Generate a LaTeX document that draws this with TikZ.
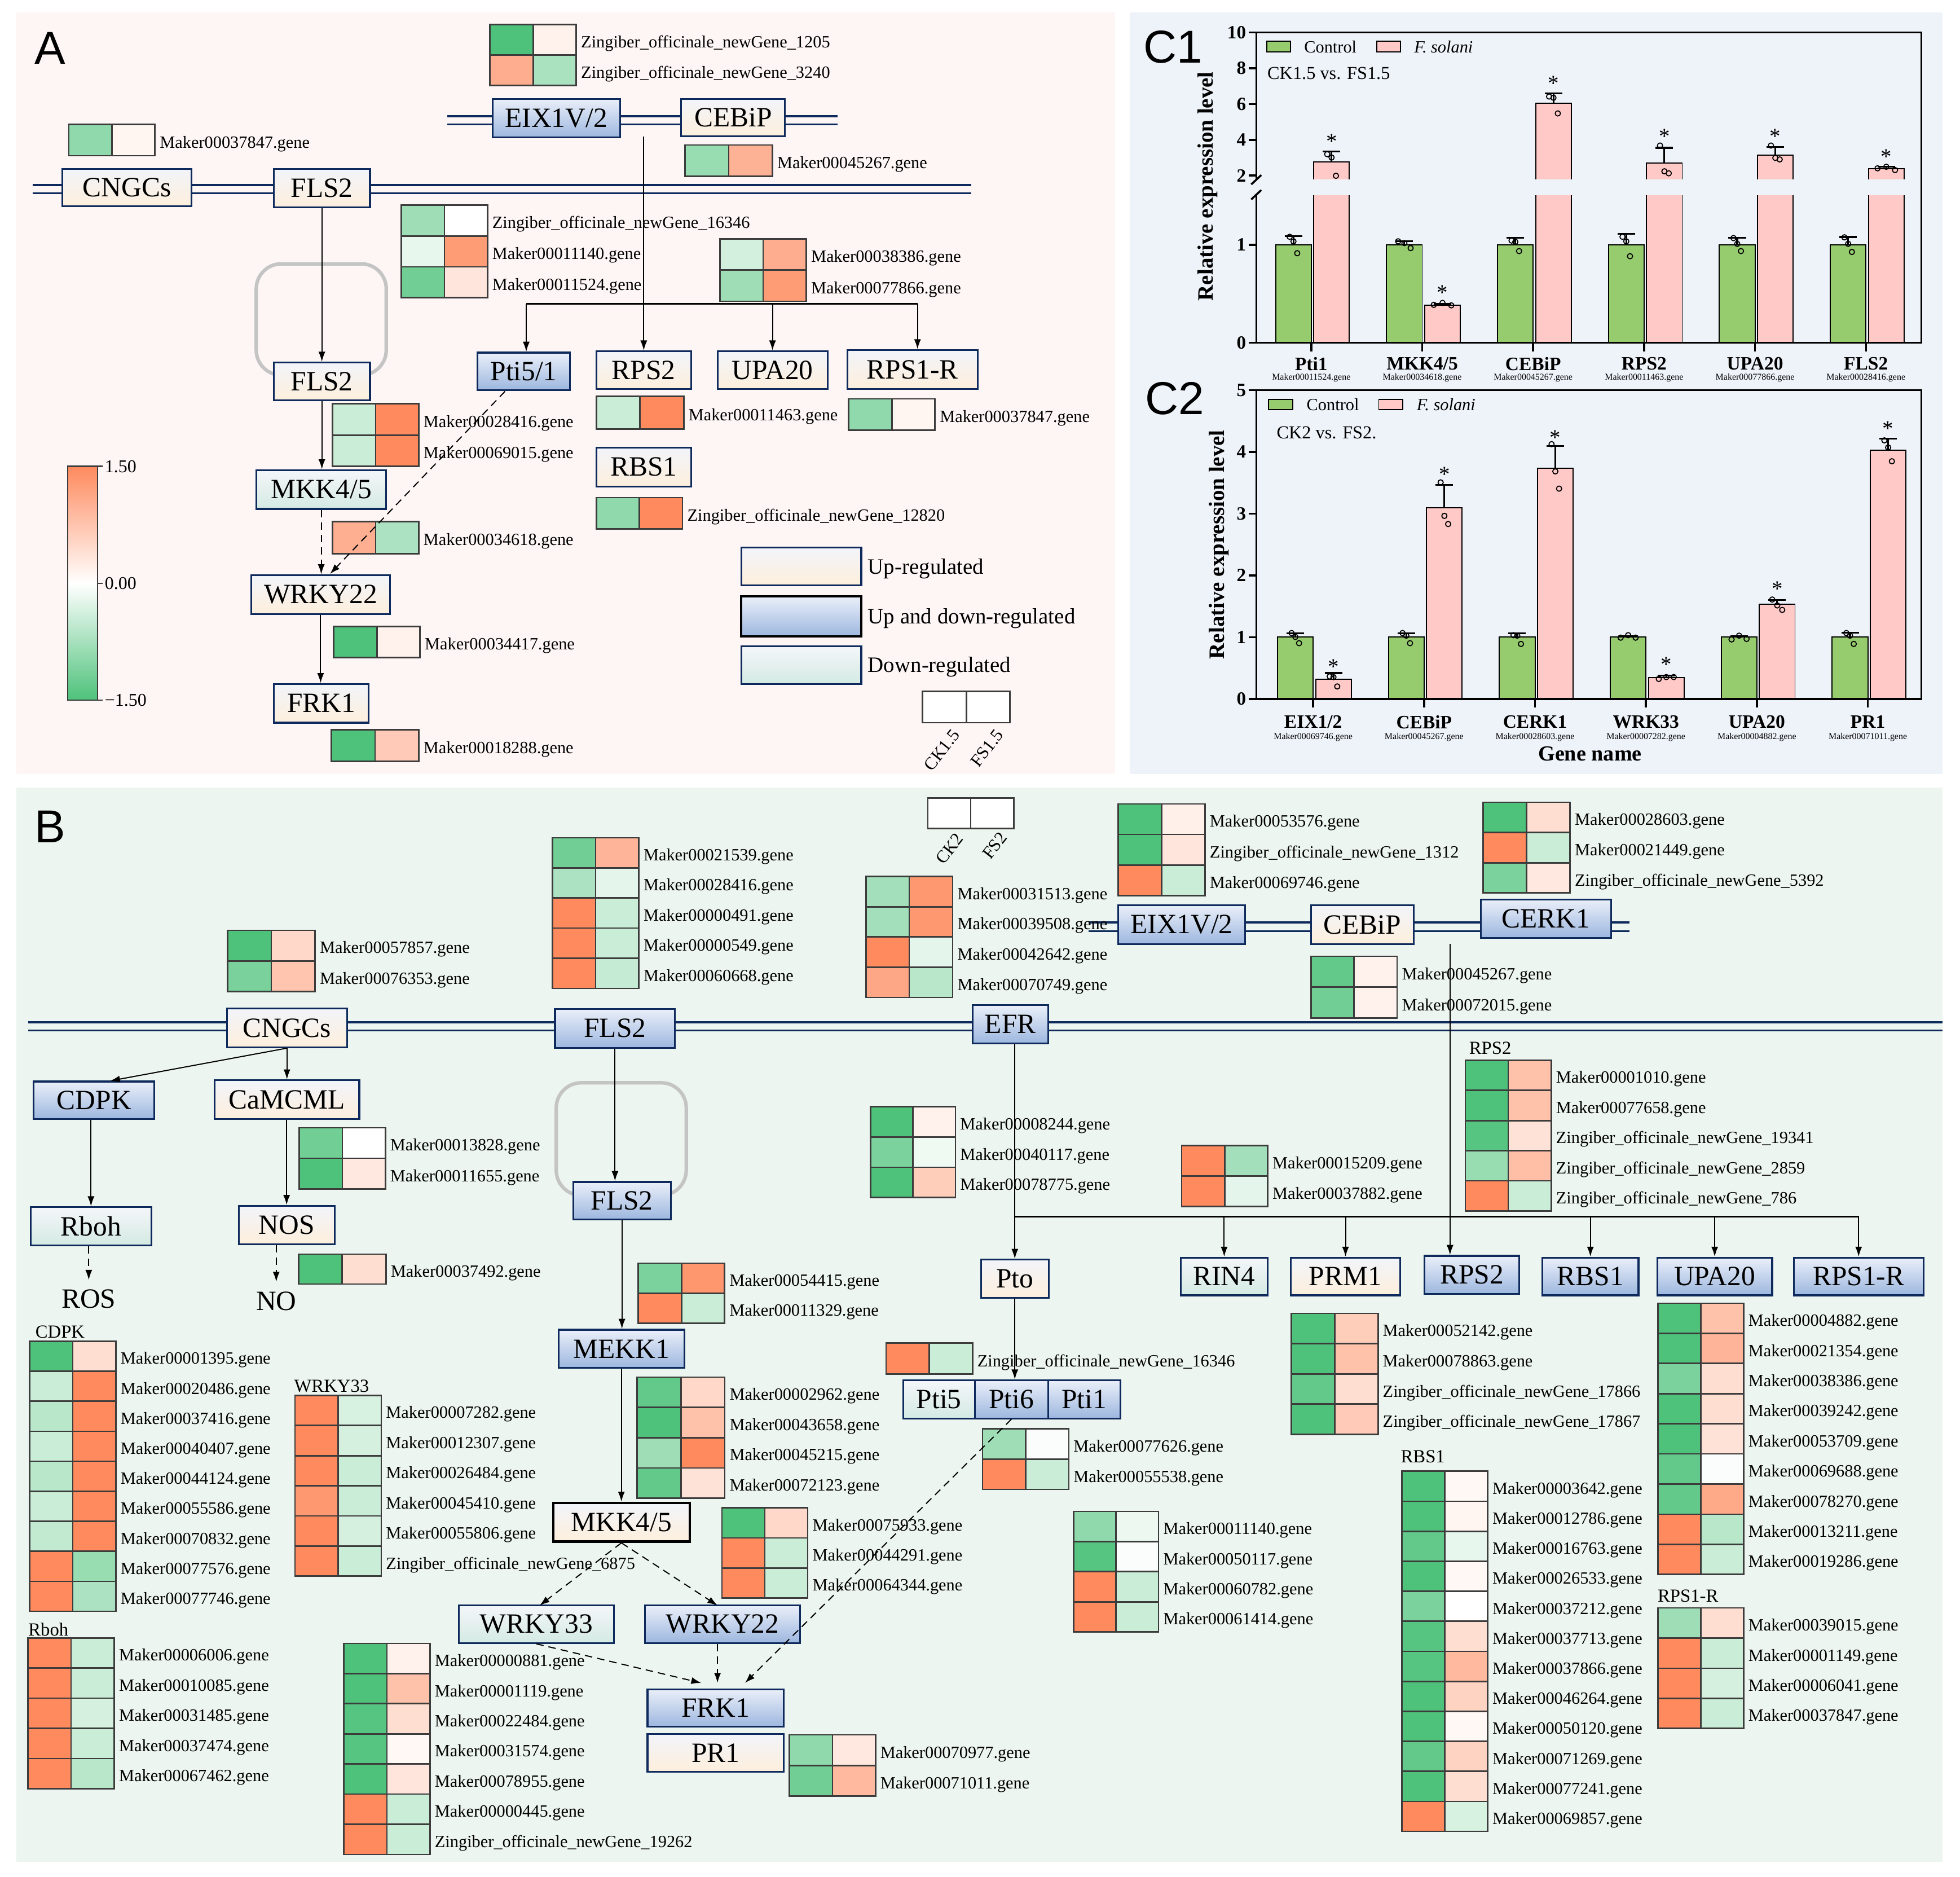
\documentclass[tikz,border=0pt]{standalone}
\usepackage{fontspec}
\setmainfont{Liberation Serif}
\newfontfamily\sansf{Liberation Sans}
\usetikzlibrary{arrows.meta,fit}
\definecolor{hg}{HTML}{4EC27B}
\definecolor{hr}{HTML}{FE8A5E}
\definecolor{navy}{HTML}{0E2A5C}
\definecolor{bgA}{HTML}{FDF6F5}
\definecolor{bgB}{HTML}{EDF5F0}
\definecolor{bgC}{HTML}{EEF3FA}
\definecolor{upT}{HTML}{F2F4FA}
\definecolor{upB}{HTML}{FDEFDC}
\definecolor{udT}{HTML}{EAEFF9}
\definecolor{udB}{HTML}{9DB7DF}
\definecolor{dnT}{HTML}{F4F6F9}
\definecolor{dnB}{HTML}{D4EAE3}
\definecolor{cellln}{HTML}{3C3C3C}
\definecolor{barG}{HTML}{96CB6E}
\definecolor{barP}{HTML}{FFC9C7}
\definecolor{greyR}{HTML}{C4C4C4}
\newcommand\myfs[1]{\fontsize{#1}{#1}\selectfont}
\newcommand\gbox[7]{%
  \node[#1,fit={(#3,#4)(#5,#6)},label={[boxlab]center:#7}] (#2) {};}
\newcommand\hmap[5]{%
  \foreach \ca/\cb/\lab [count=\i from 0] in {#5}{%
    \path[cell,fill=\ca] (#1,{#2+\i*#4}) rectangle ++(#3,#4);
    \path[cell,fill=\cb] ({#1+#3},{#2+\i*#4}) rectangle ++(#3,#4);
    \node[hmlab] at ({#1+2*#3+3.5},{#2+(\i+0.5)*#4+3}) {\lab};
  }}
\newcommand\nbar[4]{\path[fill=#4,draw=black,line width=0.5pt] (#1,#2) rectangle ({#1+28.5},#3);}
\newcommand\brokenF[2]{%
  \fill[barP] (#1,156) rectangle ({#1+28.5},274);
  \draw[line width=0.5pt] (#1,156) -- (#1,274) ({#1+28.5},156) -- ({#1+28.5},274);
  \fill[barP] (#1,143.4) rectangle ({#1+28.5},#2);
  \draw[line width=0.5pt] (#1,143.4) -- (#1,#2) -- ({#1+28.5},#2) -- ({#1+28.5},143.4);}
\newcommand\ebar[3]{\draw[line width=0.8pt] (#1,#2) -- (#1,#3) ({#1-7},#3) -- ({#1+7},#3);}
\newcommand\cpts[5]{\foreach \yy [count=\k] in {#3,#4,#5}{\draw[line width=0.45pt] ({#1+(\k-2)*#2},\yy) circle[radius=0.42mm];}}
\newcommand\cstar[2]{\node[font=\myfs{10},inner sep=0pt] at (#1,{#2+2.5}) {*};}

\begin{document}
\begin{tikzpicture}[x=0.2mm,y=-0.2mm,
  boxbase/.style={draw=navy,line width=0.8pt,inner sep=0pt},
  boxlab/.style={inner sep=0pt,font=\myfs{12.7}},
  upbox/.style={boxbase,top color=upT,bottom color=upB},
  udbox/.style={boxbase,top color=udT,bottom color=udB},
  dnbox/.style={boxbase,top color=dnT,bottom color=dnB},
  cell/.style={draw=cellln,line width=0.7pt},
  hmlab/.style={anchor=west,inner sep=0pt,font=\myfs{7.8}},
  hmtitle/.style={anchor=base west,inner sep=0pt,font=\myfs{8.4}},
  conn/.style={line width=0.5pt,-{Latex[length=1.6mm,width=1.1mm]}},
  dconn/.style={conn,dash pattern=on 1.2mm off 0.8mm},
  brl/.style={line width=0.8pt},
  memb/.style={navy,line width=0.9pt},
  roundr/.style={draw=greyR,line width=1.6pt,rounded corners=4mm},
  plab/.style={font=\sansf\myfs{21},inner sep=0pt},
  biglab/.style={font=\myfs{12.7},inner sep=1.5mm},
  leglab/.style={anchor=west,inner sep=0pt,font=\myfs{10}},
  clab/.style={anchor=west,inner sep=0pt,font=\myfs{7.8}},
  rotlab/.style={anchor=east,rotate=52,inner sep=0pt,font=\myfs{8}},
  ticklab/.style={anchor=east,inner sep=0.5pt,font=\bfseries\myfs{8.5}},
  xlab/.style={inner sep=0pt,font=\bfseries\myfs{8.6}},
  xsub/.style={inner sep=0pt,font=\myfs{4.1}},
  ytitle/.style={inner sep=0pt,rotate=90,font=\bfseries\myfs{10}},
  axl/.style={line width=0.9pt}]
\useasboundingbox (0,0) rectangle (1568,1501);
\fill[white] (0,0) rectangle (1568,1501);
\fill[bgA] (13,10) rectangle (892,619);
\fill[bgC] (904,10) rectangle (1554,619);
\fill[bgB] (13,630) rectangle (1554,1489);

\node[plab] (labA) at (40,38.5) {A};
\node[plab] (labB) at (40,661.3) {B};
\node[plab] (labC1) at (938.6,37.8) {C1};
\node[plab] (labC2) at (939.7,318.5) {C2};

%%%%%%%%%%%%%%%% PANEL A
\draw[memb] (358,93) -- (670,93) (358,99.5) -- (670,99.5);
\draw[memb] (26,148) -- (777,148) (26,154.5) -- (777,154.5);
\draw[roundr] (205,211) rectangle (309,300);

\hmap{392}{19.5}{34.5}{24.5}{hg/hr!12/Zingiber\_officinale\_newGene\_1205, hr!70/hg!48/Zingiber\_officinale\_newGene\_3240}
\hmap{55}{99.5}{34.5}{25}{hg!63/hr!8/Maker00037847.gene}
\hmap{548}{116}{35}{25}{hg!58/hr!66/Maker00045267.gene}
\hmap{321}{164}{34.5}{24.7}{hg!55/white/Zingiber\_officinale\_newGene\_16346, hg!13/hr!85/Maker00011140.gene, hg!80/hr!22/Maker00011524.gene}
\hmap{576}{191}{34.5}{25}{hg!25/hr!70/Maker00038386.gene, hg!55/hr!85/Maker00077866.gene}
\hmap{266}{323}{34.5}{25}{hg!30/hr/Maker00028416.gene, hg!30/hr/Maker00069015.gene}
\hmap{266}{417}{34.5}{26}{hr!68/hg!47/Maker00034618.gene}
\hmap{267}{501}{34.5}{25}{hg/hr!12/Maker00034417.gene}
\hmap{265}{583.5}{35}{25.5}{hg/hr!45/Maker00018288.gene}
\hmap{477}{317}{35}{26}{hg!30/hr/Maker00011463.gene}
\hmap{679}{319}{34.5}{25}{hg!63/hr!8/Maker00037847.gene}
\hmap{477}{398}{34.5}{25}{hg!63/hr/Zingiber\_officinale\_newGene\_12820}

\gbox{udbox}{A_eix}{394}{79}{496}{110}{EIX1V/2}
\gbox{upbox}{A_cebip}{545}{79}{628}{109}{CEBiP}
\gbox{upbox}{A_cngc}{50}{135}{153}{165}{CNGCs}
\gbox{upbox}{A_fls2m}{219}{135}{296}{166}{FLS2}
\gbox{upbox}{A_fls2}{219}{290}{296}{320}{FLS2}
\gbox{udbox}{A_pti}{382}{282}{456}{312}{Pti5/1}
\gbox{upbox}{A_rps2}{477}{281}{553}{311}{RPS2}
\gbox{upbox}{A_upa}{574}{281}{662}{311}{UPA20}
\gbox{upbox}{A_rps1r}{678}{280}{782}{311}{RPS1-R}
\gbox{upbox}{A_rbs1}{477}{358}{553}{389}{RBS1}
\gbox{dnbox}{A_mkk}{205}{376}{309}{407}{MKK4/5}
\gbox{upbox}{A_wrky22}{201}{460}{312}{491}{WRKY22}
\gbox{upbox}{A_frk1}{219}{547}{295}{578}{FRK1}

% legend A
\gbox{upbox}{A_lg1}{593}{438}{689}{468}{}
\gbox{udbox,draw=black,line width=1.1pt}{A_lg2}{593}{477}{689}{509}{}
\gbox{dnbox}{A_lg3}{593}{517}{689}{547}{}
\node[leglab] (A_lt1) at (694,455) {Up-regulated};
\node[leglab] (A_lt2) at (694,494.5) {Up and down-regulated};
\node[leglab] (A_lt3) at (694,533.5) {Down-regulated};
\path[cell,fill=white] (738,553) rectangle (773,578);
\path[cell,fill=white] (773,553) rectangle (808,578);
\node[rotlab] (A_ck) at (765,585) {CK1.5};
\node[rotlab] (A_fs) at (800,585) {FS1.5};

% colour bar
\shade[top color=hr,bottom color=hg,middle color=white] (54,373) rectangle (78,560);
\draw[cellln,line width=0.6pt] (54,373) rectangle (78,560);
\foreach \yy/\tt in {373/1.50,466.5/0.00,560/−1.50}{
  \draw[cellln,line width=0.6pt] (78,\yy) -- (82,\yy);
  \node[anchor=west,inner sep=0pt,font=\myfs{8.2}] at (83.5,\yy) {\tt};}

% connectors A
\coordinate (A_src) at (515,109);
\draw[conn] (A_src) -- (A_rps2.north);
\coordinate (A_b1) at (421,243);
\coordinate (A_b2) at (618,243);
\coordinate (A_b3) at (734,243);
\draw[brl] (A_b1) -- (A_b3);
\draw[conn] (A_b1) -- (A_b1 |- A_pti.north);
\draw[conn] (A_b2) -- (A_b2 |- A_upa.north);
\draw[conn] (A_b3) -- (A_b3 |- A_rps1r.north);
\draw[conn] (A_fls2m.south) -- (A_fls2m.south |- A_fls2.north);
\draw[conn] (A_fls2.south) -- (A_fls2.south |- A_mkk.north);
\draw[dconn] (A_mkk.south) -- (A_mkk.south |- A_wrky22.north);
\coordinate (A_d1) at (404,313);
\coordinate (A_d2) at (264,459);
\draw[dconn] (A_d1) -- (A_d2);
\draw[conn] (A_wrky22.south) -- (A_wrky22.south |- A_frk1.north);

%%%%%%%%%%%%%%%% PANEL C1
\foreach \i/\et/\da/\db/\dc/\sp in {0/188.8/189.4/193/202.5/3, 1/192.7/193/194.4/198.4/5, 2/190.3/192.4/193.4/200.8/3, 3/187.2/189.4/193/204.9/3, 4/190.3/190.4/195/200.8/3, 5/189.5/189.8/195/201.5/3}{
  \pgfmathsetmacro\xl{1020.5+88.75*\i}
  \pgfmathsetmacro\xc{\xl+14.25}
  \nbar{\xl}{195.8}{274}{barG}
  \ebar{\xc}{195.8}{\et}
  \cpts{\xc}{\sp}{\da}{\db}{\dc}}
\brokenF{1051}{129.7} \ebar{1065.25}{129.7}{121} \cpts{1065.25}{3.5}{123.3}{126}{140.6} \cstar{1065.25}{110.8}
\nbar{1139.75}{244.3}{274}{barP} \ebar{1154}{244.3}{243} \cpts{1154}{7}{243.8}{242.3}{244.2} \cstar{1154}{231.7}
\brokenF{1228.5}{82.5} \ebar{1242.75}{82.5}{74.8} \cpts{1242.75}{3.5}{77.2}{78.2}{90.7} \cstar{1242.75}{64}
\brokenF{1317.25}{130.4} \ebar{1331.5}{130.4}{118.2} \cpts{1331.5}{3.5}{116.4}{137}{138.6} \cstar{1331.5}{106.8}
\brokenF{1406}{124} \ebar{1420.25}{124}{117.5} \cpts{1420.25}{3.5}{116.4}{126.3}{127.5} \cstar{1420.25}{106.8}
\brokenF{1494.75}{135} \ebar{1509}{135}{133.5} \cpts{1509}{7}{134.6}{133.4}{136} \cstar{1509}{122.9}
\draw[axl] (1005,26) -- (1537,26) -- (1537,274) -- (1005,274);
\draw[axl] (1005,26) -- (1005,143.4) (1005,156) -- (1005,274);
\draw[axl] (1001,147.5) -- (1009,140) (1001,159.5) -- (1009,152);
\foreach \yy/\tt in {26/10,54.6/8,83.2/6,111.8/4,140.4/2,195.8/1,274/0}{
  \draw[axl] (999,\yy) -- (1005,\yy);
  \node[ticklab] at (998,\yy) {\tt};}
\foreach \i/\g/\m in {0/Pti1/Maker00011524.gene, 1/{MKK4/5}/Maker00034618.gene, 2/CEBiP/Maker00045267.gene, 3/RPS2/Maker00011463.gene, 4/UPA20/Maker00077866.gene, 5/FLS2/Maker00028416.gene}{
  \draw[axl] ({1049+88.75*\i},274) -- ++(0,7);
  \node[xlab] at ({1049+88.75*\i},291) {\g};
  \node[xsub] at ({1049+88.75*\i},302) {\m};}
\path[fill=barG,draw=black,line width=0.5pt] (1013.6,33) rectangle (1032.5,41.4);
\node[clab] (C1_l1) at (1043,37.4) {Control};
\path[fill=barP,draw=black,line width=0.5pt] (1101.6,33) rectangle (1120.5,41.4);
\node[clab] (C1_l2) at (1131,37.4) {\itshape F. solani};
\node[clab,font=\myfs{8.3}] (C1_t) at (1013.6,58.8) {CK1.5 vs. FS1.5};
\node[ytitle] (C1_y) at (966,149) {Relative expression level};

%%%%%%%%%%%%%%%% PANEL C2
\foreach \i/\et/\da/\db/\dc/\sp in {0/506.3/506.3/509.4/514.4/3, 1/506.6/506.3/508.4/514.4/3, 2/506.5/508/508.4/515/3, 3/508.6/510/508/510/6, 4/508.8/511.4/508.4/511/6, 5/506/506.3/508.4/515/3}{
  \pgfmathsetmacro\xl{1022+88.75*\i}
  \pgfmathsetmacro\xc{\xl+14.25}
  \nbar{\xl}{509.6}{559}{barG}
  \ebar{\xc}{509.6}{\et}
  \cpts{\xc}{\sp}{\da}{\db}{\dc}}
\foreach \i/\tp/\et/\da/\db/\dc/\sp/\st in {0/543.2/538.3/541/541.5/549/3/530.9, 1/405.9/388/385.8/412.6/419.1/3/376.8, 2/374.7/356.8/355.2/377/390.8/3/347.7, 3/541.7/540.5/543/541.5/541.5/6/529, 4/483.4/479.7/479.5/484.2/487.8/4/468.6, 5/359.9/350.7/352.2/357.9/368.9/3/340.5}{
  \pgfmathsetmacro\xl{1052.5+88.75*\i}
  \pgfmathsetmacro\xc{\xl+14.25}
  \nbar{\xl}{\tp}{559}{barP}
  \ebar{\xc}{\tp}{\et}
  \cpts{\xc}{\sp}{\da}{\db}{\dc}
  \cstar{\xc}{\st}}
\draw[axl] (1005,312) rectangle (1537,559);
\foreach \yy/\tt in {312/5,361.4/4,410.8/3,460.2/2,509.6/1,559/0}{
  \draw[axl] (999,\yy) -- (1005,\yy);
  \node[ticklab] at (998,\yy) {\tt};}
\foreach \i/\g/\m in {0/{EIX1/2}/Maker00069746.gene, 1/CEBiP/Maker00045267.gene, 2/CERK1/Maker00028603.gene, 3/WRK33/Maker00007282.gene, 4/UPA20/Maker00004882.gene, 5/PR1/Maker00071011.gene}{
  \draw[axl] ({1050.5+88.75*\i},559) -- ++(0,7);
  \node[xlab] at ({1050.5+88.75*\i},577.5) {\g};
  \node[xsub] at ({1050.5+88.75*\i},589.5) {\m};}
\path[fill=barG,draw=black,line width=0.5pt] (1015,319.4) rectangle (1034,327.4);
\node[clab] (C2_l1) at (1045,323.6) {Control};
\path[fill=barP,draw=black,line width=0.5pt] (1103,319.4) rectangle (1122,327.4);
\node[clab] (C2_l2) at (1133,323.6) {\itshape F. solani};
\node[clab,font=\myfs{8.3}] (C2_t) at (1021,346) {CK2 vs. FS2.};
\node[ytitle] (C2_y) at (975,435.5) {Relative expression level};
\node[inner sep=0pt,font=\bfseries\myfs{9.8}] (C2_x) at (1272,603) {Gene name};

%%%%%%%%%%%%%%%% PANEL B
\draw[memb] (22.5,817.5) -- (1554,817.5) (22.5,824.2) -- (1554,824.2);
\draw[memb] (870.7,737.8) -- (1303.7,737.8) (870.7,744.8) -- (1303.7,744.8);
\draw[roundr] (445,866) rectangle (549,956);

\path[cell,fill=white] (742.2,638.4) rectangle (776.6,662.5);
\path[cell,fill=white] (776.6,638.4) rectangle (811,662.5);
\node[rotlab] (B_ck) at (768,668) {CK2};
\node[rotlab] (B_fs) at (803,667) {FS2};

\hmap{182}{744}{35}{24.5}{hg/hr!33/Maker00057857.gene, hg!75/hr!50/Maker00076353.gene}
\hmap{442}{670}{34.5}{24.1}{hg!80/hr!64/Maker00021539.gene, hg!47/hg!15/Maker00028416.gene, hr/hg!30/Maker00000491.gene, hr/hg!30/Maker00000549.gene, hr/hg!32/Maker00060668.gene}
\hmap{692.7}{701}{34.7}{24.2}{hg!52/hr!88/Maker00031513.gene, hg!52/hr!88/Maker00039508.gene, hr/hg!15/Maker00042642.gene, hr!75/hg!40/Maker00070749.gene}
\hmap{894.6}{643}{34.7}{24.4}{hg/hr!13/Maker00053576.gene, hg/hr!22/Zingiber\_officinale\_newGene\_1312, hr/hg!30/Maker00069746.gene}
\hmap{1186.6}{641.6}{34.7}{24.2}{hg/hr!28/Maker00028603.gene, hr/hg!30/Maker00021449.gene, hg!74/hr!20/Zingiber\_officinale\_newGene\_5392}
\hmap{1048.7}{764.8}{34.5}{24.7}{hg!88/hr!12/Maker00045267.gene, hg!80/hr!12/Maker00072015.gene}
\hmap{239.5}{902}{34.4}{24.4}{hg!80/white/Maker00013828.gene, hg/hr!20/Maker00011655.gene}
\hmap{238.8}{1003}{35}{24}{hg/hr!28/Maker00037492.gene}
\hmap{696.3}{885.2}{34}{24.2}{hg/hr!12/Maker00008244.gene, hg!74/hg!9/Maker00040117.gene, hg/hr!42/Maker00078775.gene}
\hmap{945.3}{916.3}{34.4}{24.3}{hr/hg!52/Maker00015209.gene, hr/hg!15/Maker00037882.gene}
\node[hmtitle] (B_t1) at (1175,843.3) {RPS2};
\hmap{1172.2}{848}{34.4}{24.1}{hg/hr!53/Maker00001010.gene, hg/hr!53/Maker00077658.gene, hg!95/hr!25/Zingiber\_officinale\_newGene\_19341, hg!58/hr!55/Zingiber\_officinale\_newGene\_2859, hr/hg!30/Zingiber\_officinale\_newGene\_786}
\hmap{510.7}{1010.3}{34.5}{24}{hg!74/hr!90/Maker00054415.gene, hr/hg!30/Maker00011329.gene}
\hmap{509.8}{1101.4}{35}{24.2}{hg!88/hr!33/Maker00002962.gene, hg/hr!53/Maker00043658.gene, hg!55/hr/Maker00045215.gene, hg!88/hr!25/Maker00072123.gene}
\hmap{577.6}{1206}{34.3}{24}{hg/hr!33/Maker00075933.gene, hr/hg!30/Maker00044291.gene, hr/hg!30/Maker00064344.gene}
\node[hmtitle] (B_t2) at (28,1070) {CDPK};
\hmap{23.7}{1072.7}{34.5}{24}{hg/hr!28/Maker00001395.gene, hg!30/hr/Maker00020486.gene, hg!40/hr/Maker00037416.gene, hg!30/hr/Maker00040407.gene, hg!40/hr/Maker00044124.gene, hg!30/hr/Maker00055586.gene, hg!35/hr/Maker00070832.gene, hr/hg!58/Maker00077576.gene, hr/hg!47/Maker00077746.gene}
\node[hmtitle] (B_t3) at (235,1113.5) {WRKY33};
\hmap{236}{1116}{34.5}{24.1}{hr/hg!22/Maker00007282.gene, hr/hg!24/Maker00012307.gene, hr/hg!30/Maker00026484.gene, hr!88/hg!30/Maker00045410.gene, hr/hg!24/Maker00055806.gene, hr/hg!30/Zingiber\_officinale\_newGene\_6875}
\node[hmtitle] (B_t4) at (22.4,1308.5) {Rboh};
\hmap{22.4}{1310}{34.5}{24.1}{hr/hg!30/Maker00006006.gene, hr/hg!30/Maker00010085.gene, hr/hg!24/Maker00031485.gene, hr/hg!30/Maker00037474.gene, hr/hg!40/Maker00067462.gene}
\hmap{275}{1314.4}{34.5}{24.1}{hg/hr!12/Maker00000881.gene, hg/hr!53/Maker00001119.gene, hg!95/hr!28/Maker00022484.gene, hg!95/hr!6/Maker00031574.gene, hg/hr!22/Maker00078955.gene, hr/hg!30/Maker00000445.gene, hr/hg!30/Zingiber\_officinale\_newGene\_19262}
\hmap{631.6}{1387.5}{34.4}{24.5}{hg!63/hr!20/Maker00070977.gene, hg!80/hr!60/Maker00071011.gene}
\hmap{708.8}{1074}{34.6}{25}{hr/hg!30/Zingiber\_officinale\_newGene\_16346}
\hmap{786}{1142.8}{34.5}{24.2}{hg!55/hg!3/Maker00077626.gene, hr/hg!30/Maker00055538.gene}
\hmap{858.8}{1208.8}{34}{24.1}{hg!63/hg!11/Maker00011140.gene, hg!95/hg!3/Maker00050117.gene, hr/hg!30/Maker00060782.gene, hr/hg!30/Maker00061414.gene}
\hmap{1033}{1050.4}{34.7}{24.2}{hg/hr!42/Maker00052142.gene, hg/hr!53/Maker00078863.gene, hg!88/hr!28/Zingiber\_officinale\_newGene\_17866, hg/hr!45/Zingiber\_officinale\_newGene\_17867}
\node[hmtitle] (B_t5) at (1120.3,1170) {RBS1};
\hmap{1121.5}{1176.7}{34.3}{24}{hg/hr!6/Maker00003642.gene, hg/hr!8/Maker00012786.gene, hg!88/hg!13/Maker00016763.gene, hg/hr!6/Maker00026533.gene, hg!74/white/Maker00037212.gene, hg!95/hr!28/Maker00037713.gene, hg!95/hr!60/Maker00037866.gene, hg/hr!38/Maker00046264.gene, hg/hr!6/Maker00050120.gene, hg!88/hr!38/Maker00071269.gene, hg/hr!28/Maker00077241.gene, hr/hg!22/Maker00069857.gene}
\hmap{1326.3}{1042.3}{34.3}{24.1}{hg/hr!53/Maker00004882.gene, hg/hr!64/Maker00021354.gene, hg!74/hr!28/Maker00038386.gene, hg/hr!28/Maker00039242.gene, hg/hr!25/Maker00053709.gene, hg!88/hg!3/Maker00069688.gene, hg!88/hr!73/Maker00078270.gene, hr/hg!40/Maker00013211.gene, hr/hg!30/Maker00019286.gene}
\node[hmtitle] (B_t6) at (1325.8,1281) {RPS1-R};
\hmap{1326.3}{1286}{34.3}{24.1}{hg!55/hr!28/Maker00039015.gene, hr/hg!30/Maker00001149.gene, hr/hg!24/Maker00006041.gene, hr/hg!30/Maker00037847.gene}

\gbox{upbox}{B_cngc}{181.5}{806.6}{277.6}{837.6}{CNGCs}
\gbox{udbox}{B_fls2m}{444}{807}{540}{838}{FLS2}
\gbox{udbox}{B_efr}{778}{804}{838.5}{834.5}{EFR}
\gbox{udbox}{B_eix}{894.6}{724}{996}{755}{EIX1V/2}
\gbox{upbox}{B_cebip}{1048.7}{724}{1131}{755}{CEBiP}
\gbox{udbox}{B_cerk}{1184.8}{719.4}{1288.8}{750}{CERK1}
\gbox{udbox}{B_cdpk}{27}{865}{123.5}{895}{CDPK}
\gbox{upbox}{B_camcml}{171.5}{864}{287.4}{895}{CaMCML}
\gbox{dnbox}{B_rboh}{24.6}{965.5}{121}{996}{Rboh}
\gbox{upbox}{B_nos}{191}{964.4}{267.6}{995}{NOS}
\gbox{udbox}{B_fls2}{458.5}{945.3}{536.6}{975.4}{FLS2}
\gbox{udbox}{B_mekk}{446.8}{1063.5}{547.4}{1094}{MEKK1}
\gbox{upbox,draw=black,line width=1.1pt}{B_mkk}{442.5}{1202}{551.7}{1233}{MKK4/5}
\gbox{dnbox}{B_wrky33}{367}{1284}{491}{1314}{WRKY33}
\gbox{udbox}{B_wrky22}{516}{1284}{640}{1314}{WRKY22}
\gbox{udbox}{B_frk1}{518}{1351}{627}{1381}{FRK1}
\gbox{upbox}{B_pr1}{518}{1387}{627}{1417}{PR1}
\gbox{upbox}{B_pto}{784.7}{1007.5}{839}{1038}{Pto}
\gbox{dnbox}{B_rin4}{944.7}{1005.8}{1014}{1036}{RIN4}
\gbox{upbox}{B_prm1}{1032.5}{1005.8}{1120.3}{1036}{PRM1}
\gbox{udbox}{B_rps2}{1139.5}{1004.4}{1215.3}{1034.8}{RPS2}
\gbox{udbox}{B_rbs1}{1233.8}{1005.8}{1310.8}{1036}{RBS1}
\gbox{udbox}{B_upa}{1325.8}{1005.8}{1417.7}{1036}{UPA20}
\gbox{udbox}{B_rps1r}{1435}{1005.8}{1538.8}{1036}{RPS1-R}
\gbox{dnbox}{B_pti5}{722.5}{1104}{779.8}{1134.4}{Pti5}
\gbox{udbox}{B_pti6}{779.8}{1104}{838.4}{1134.4}{Pti6}
\gbox{udbox}{B_pti1}{838.4}{1104}{896.2}{1134.4}{Pti1}
\node[biglab] (B_ros) at (71,1039) {ROS};
\node[biglab] (B_no) at (221,1040.5) {NO};

% connectors B
\coordinate (B_cd) at (88,864.5);
\draw[conn] (B_cngc.south) -- (B_cd);
\draw[conn] (B_cngc.south) -- (B_cngc.south |- B_camcml.north);
\draw[conn] (B_cdpk.south -| B_rboh.north) -- (B_rboh.north);
\draw[conn] (B_camcml.south -| B_nos.north) -- (B_nos.north);
\draw[dconn] (B_rboh.south -| B_ros.north) -- (B_ros.north);
\draw[dconn] (B_nos.south -| B_no.north) -- (B_no.north);
\draw[conn] (B_fls2m.south) -- (B_fls2m.south |- B_fls2.north);
\draw[conn] (B_fls2.south) -- (B_fls2.south |- B_mekk.north);
\draw[conn] (B_mekk.south) -- (B_mekk.south |- B_mkk.north);
\coordinate (B_w33t) at (431.7,1284);
\coordinate (B_w22t) at (574,1284);
\draw[dconn] (B_mkk.south) -- (B_w33t);
\draw[dconn] (B_mkk.south) -- (B_w22t);
\coordinate (B_f1) at (561,1346);
\coordinate (B_f2) at (574,1346);
\coordinate (B_f3) at (596,1346);
\draw[dconn] (B_wrky33.south) -- (B_f1);
\draw[dconn] (B_wrky22.south -| B_f2) -- (B_f2);
\draw[dconn] (B_pti6.south) -- (B_f3);
\draw[conn] (B_efr.south -| B_pto.north) -- (B_pto.north);
\coordinate (B_b0) at (812,973.2);
\coordinate (B_b1) at (1487,973.2);
\draw[brl] (B_b0) -- (B_b1);
\foreach \n in {B_rin4,B_prm1,B_rbs1,B_upa,B_rps1r}{\draw[conn] (\n.north |- B_b0) -- (\n.north);}
\coordinate (B_ceb) at (1160,755);
\draw[conn] (B_ceb) -- (B_ceb |- B_rps2.north);
\draw[conn] (B_pto.south) -- (B_pto.south |- B_pti6.north);
\end{tikzpicture}
\end{document}
